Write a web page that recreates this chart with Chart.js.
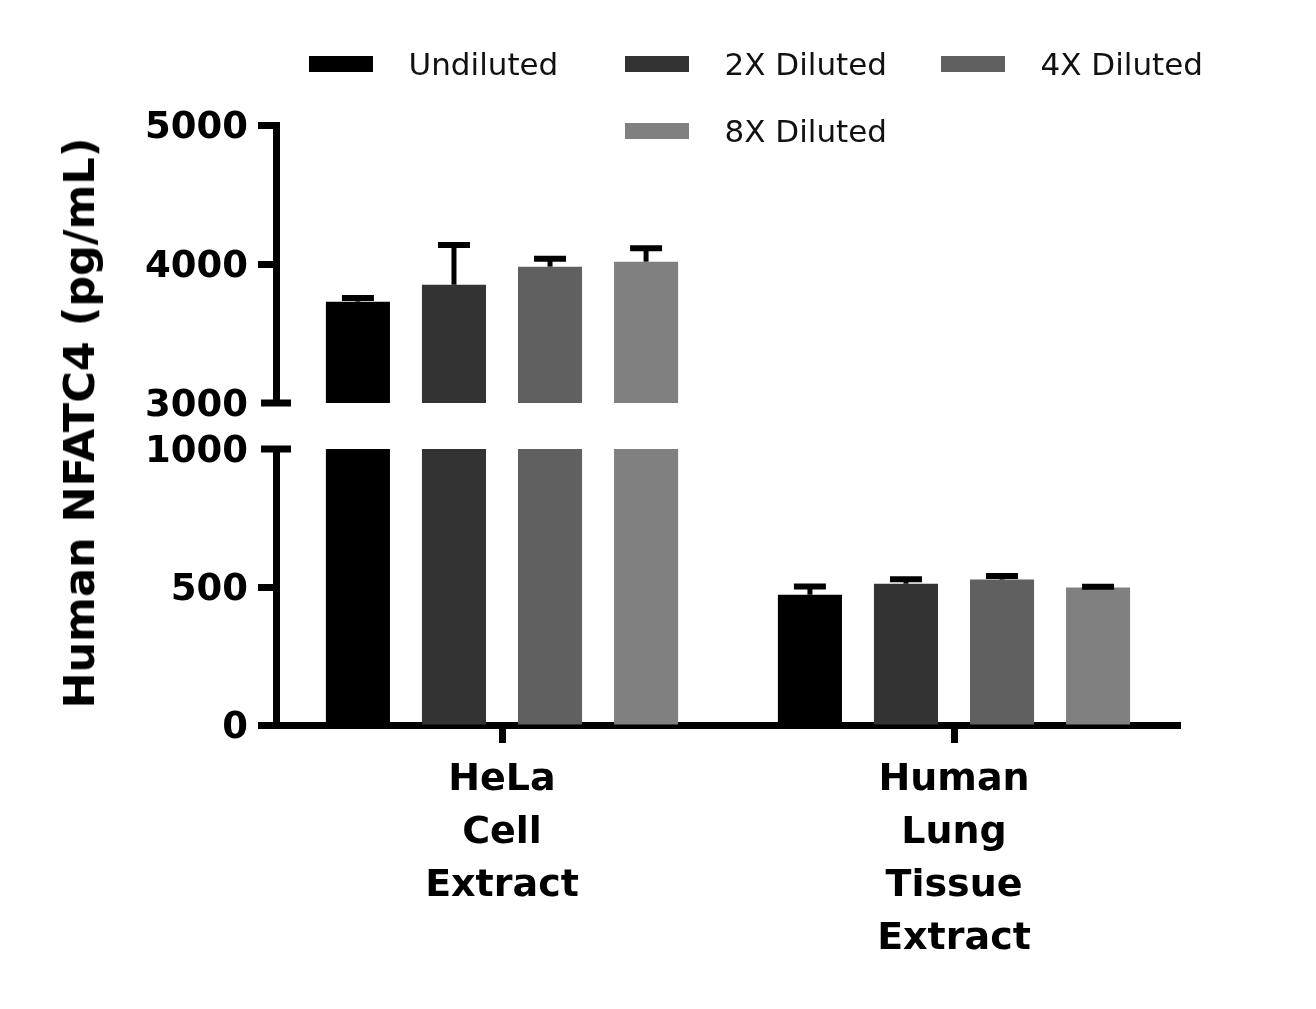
<!DOCTYPE html>
<html lang="en">

<head>
  <meta charset="UTF-8">
  <title>Human NFATC4</title>
  <script src="https://cdn.jsdelivr.net/npm/chart.js"></script>
  <style>
    body { margin: 0; background: #fff; }
    #wrap { position: relative; width: 1316px; height: 1009px; font-family: "DejaVu Sans", sans-serif; }
    canvas { position: absolute; left: 0; }
    #graficoTopo { top: 0; }
    #graficoBase { top: 416px; }
    #legenda { position: absolute; left: 308px; top: 30px; width: 949px; display: flex; flex-wrap: wrap; justify-content: center; }
    .item { width: 316px; height: 67px; display: flex; align-items: center; }
    .cor { width: 64px; height: 16px; }
    .nome { margin-left: 36px; font-size: 31px; color: #111; white-space: nowrap; }
    #tituloY { position: absolute; left: 79px; top: 423px; transform: translate(-50%, -50%) rotate(-90deg);
      font-size: 43px; font-weight: bold; white-space: nowrap; color: #000; }
  </style>
</head>

<body>
  <div id="wrap">
    <canvas id="graficoTopo" width="1316" height="440"></canvas>
    <canvas id="graficoBase" width="1316" height="593"></canvas>
    <div id="legenda"></div>
    <div id="tituloY">Human NFATC4 (pg/mL)</div>
  </div>

<script>
  const categorias = [['HeLa', 'Cell', 'Extract'], ['Human', 'Lung', 'Tissue', 'Extract']];
  const series = ['Undiluted', '2X Diluted', '4X Diluted', '8X Diluted'];
  const cores = ['#000000', '#333333', '#606060', '#808080'];

  // media e desvio (so para cima) de cada serie: [HeLa, Lung]
  const undiluted = [3729, 472];
  const diluted2x = [3851, 512];
  const diluted4x = [3981, 527];
  const diluted8x = [4017, 498];
  const sdUndiluted = [26, 30];
  const sd2x = [286, 16];
  const sd4x = [57, 13];
  const sd8x = [96, 3];

  const ticksTopo = [3000, 4000, 5000];
  const ticksBase = [0, 500, 1000];

  const valores = [undiluted, diluted2x, diluted4x, diluted8x];
  const desvios = [sdUndiluted, sd2x, sd4x, sd8x];
  const fonte = 'DejaVu Sans';

  // legenda em html, montada das series
  const legenda = document.getElementById('legenda');
  series.forEach((nome, i) => {
    const item = document.createElement('div');
    item.className = 'item';
    item.innerHTML = '<div class="cor" style="background:' + cores[i] + '"></div><span class="nome">' + nome + '</span>';
    legenda.appendChild(item);
  });

  function montarDatasets() {
    return series.map((nome, i) => ({
      label: nome,
      data: valores[i],
      sd: desvios[i],
      backgroundColor: cores[i],
      borderWidth: 0,
      clip: 0,
      categoryPercentage: 0.85,
      barPercentage: 0.667
    }));
  }

  const barrasErro = {
    id: 'barrasErro',
    afterDatasetsDraw(chart) {
      const { ctx, chartArea: a } = chart;
      const y = chart.scales.y;
      ctx.save();
      ctx.beginPath();
      ctx.rect(a.left, a.top, a.right - a.left, a.bottom - a.top);
      ctx.clip();
      ctx.strokeStyle = '#000';
      chart.data.datasets.forEach((ds, i) => {
        chart.getDatasetMeta(i).data.forEach((barra, j) => {
          const topo = y.getPixelForValue(ds.data[j]);
          const fim = y.getPixelForValue(ds.data[j] + ds.sd[j]);
          ctx.lineWidth = 5;
          ctx.beginPath();
          ctx.moveTo(barra.x, topo);
          ctx.lineTo(barra.x, fim);
          ctx.stroke();
          ctx.lineWidth = 6;
          ctx.beginPath();
          ctx.moveTo(barra.x - 16, fim);
          ctx.lineTo(barra.x + 16, fim);
          ctx.stroke();
        });
      });
      ctx.restore();
    }
  };

  // traco da quebra do eixo y
  const quebraEixo = {
    id: 'quebraEixo',
    afterDraw(chart, args, opts) {
      const ctx = chart.ctx;
      const py = chart.scales.y.getPixelForValue(opts.valor);
      const x = chart.chartArea.left;
      ctx.save();
      ctx.strokeStyle = '#000';
      ctx.lineWidth = 7;
      ctx.beginPath();
      ctx.moveTo(x - 15, py);
      ctx.lineTo(x + 15, py);
      ctx.stroke();
      ctx.restore();
    }
  };

  function eixoY(min, max, valoresTicks, valorQuebra) {
    return {
      min: min,
      max: max,
      afterFit: s => { s.width = 276; },
      afterBuildTicks: s => { s.ticks = valoresTicks.map(v => ({ value: v })); },
      border: { display: true, width: 7, color: '#000' },
      grid: {
        drawOnChartArea: false,
        tickLength: 18,
        tickWidth: 7,
        tickColor: c => (c.tick && c.tick.value === valorQuebra) ? 'rgba(0,0,0,0)' : '#000'
      },
      ticks: {
        color: '#000',
        padding: 10,
        labelOffset: 3,
        font: { family: fonte, weight: 'bold', size: 37 },
        callback: v => String(v)
      }
    };
  }

  const graficoTopo = new Chart(document.getElementById('graficoTopo'), {
    type: 'bar',
    data: { labels: categorias, datasets: montarDatasets() },
    options: {
      responsive: false,
      animation: false,
      layout: { padding: { top: 125, right: 136, bottom: 37, left: 0 } },
      plugins: { legend: { display: false }, tooltip: { enabled: false }, quebraEixo: { valor: 3000 } },
      scales: {
        x: { display: false },
        y: eixoY(3000, 5000, ticksTopo, 3000)
      }
    },
    plugins: [barrasErro, quebraEixo]
  });

  const graficoBase = new Chart(document.getElementById('graficoBase'), {
    type: 'bar',
    data: { labels: categorias, datasets: montarDatasets() },
    options: {
      responsive: false,
      animation: false,
      layout: { padding: { top: 33, right: 136, bottom: 0, left: 0 } },
      plugins: { legend: { display: false }, tooltip: { enabled: false }, quebraEixo: { valor: 1000 } },
      scales: {
        x: {
          afterFit: s => { s.height = 284; },
          border: { display: true, width: 7, color: '#000' },
          grid: { offset: false, drawOnChartArea: false, tickLength: 18, tickWidth: 7, tickColor: '#000' },
          ticks: {
            color: '#000',
            padding: 11,
            maxRotation: 0,
            autoSkip: false,
            font: { family: fonte, weight: 'bold', size: 38, lineHeight: '53px' }
          }
        },
        y: eixoY(0, 1000, ticksBase, 1000)
      }
    },
    plugins: [barrasErro, quebraEixo]
  });
</script>
</body>

</html>
